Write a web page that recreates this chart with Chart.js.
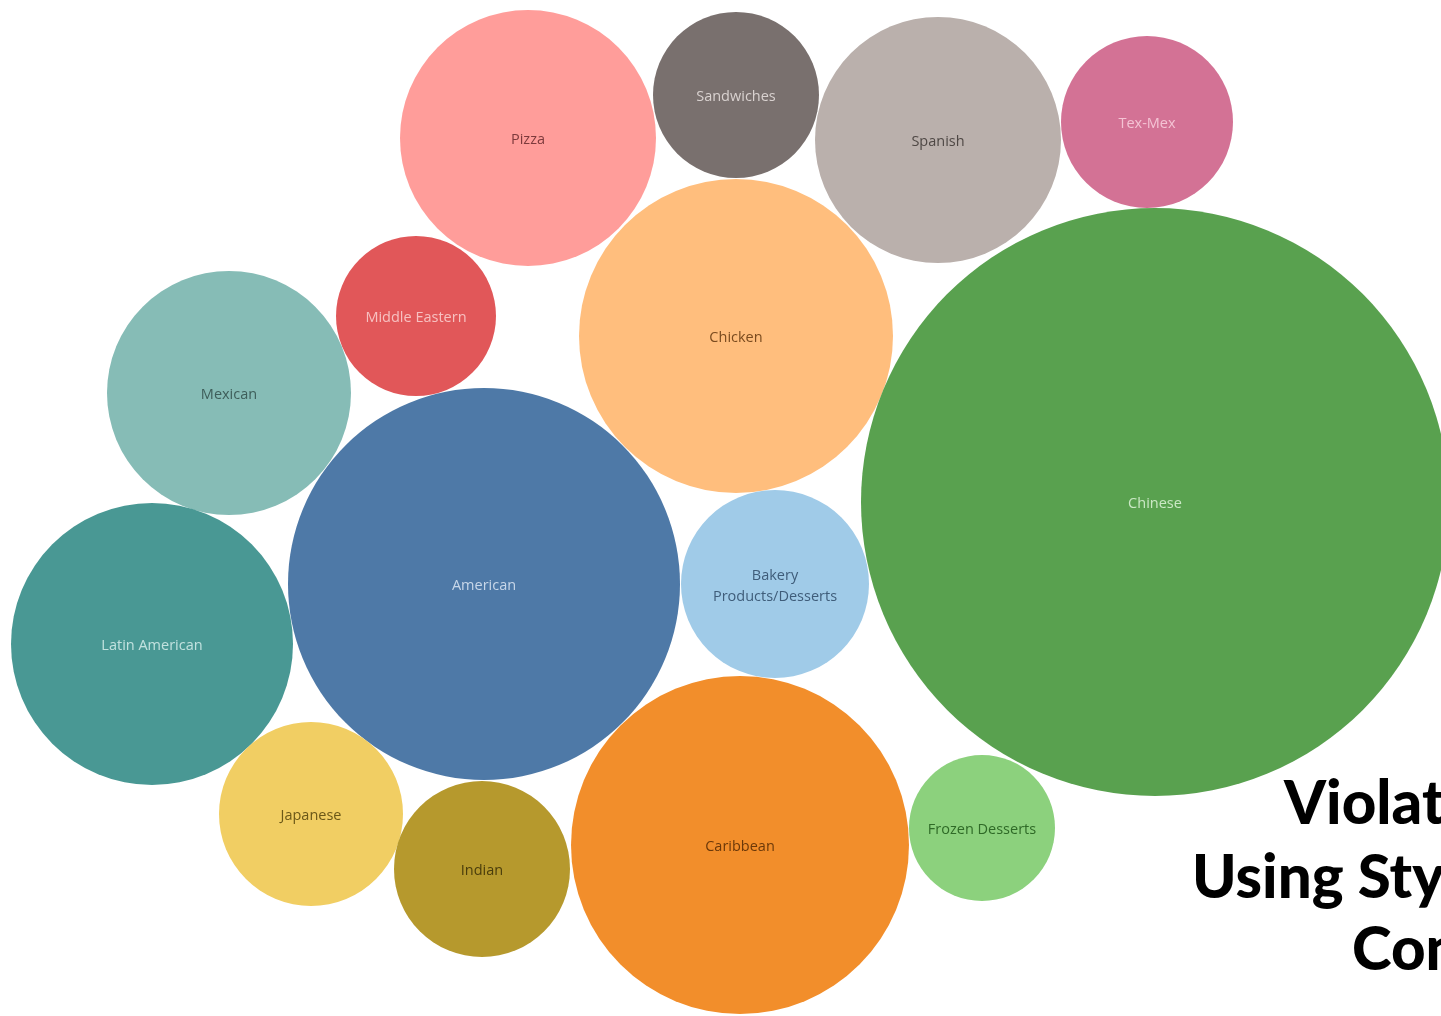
<!DOCTYPE html>
<html>
<head>
<meta charset="utf-8">
<script src="https://cdn.jsdelivr.net/npm/chart.js@4"></script>
<style>
  html, body { margin: 0; padding: 0; background: #ffffff; overflow: hidden; }
  #wrap { position: relative; width: 1441px; height: 1016px; overflow: hidden; }
  #bubbles { position: absolute; left: 0; top: 0; }
  .headline {
    position: absolute; white-space: nowrap; color: #000;
    font-family: Lato, "Open Sans", sans-serif; font-weight: 900;
    font-size: 60px; line-height: 60px;
  }
</style>
</head>
<body>
<div id="wrap">
  <canvas id="bubbles" width="1441" height="1016"></canvas>
  <div class="headline" style="left:1284px; top:771px;">Violation:</div>
  <div class="headline" style="left:1192px; top:845px;">Using Style over</div>
  <div class="headline" style="left:1352px; top:917px;">Content</div>
</div>
<script>
// Cuisine categories shown as packed bubbles
const cuisines = [
  "Pizza", "Sandwiches", "Spanish", "Tex-Mex", "Middle Eastern",
  "Chicken", "Chinese", "Mexican", "American", "Bakery Products/Desserts",
  "Latin American", "Japanese", "Indian", "Caribbean", "Frozen Desserts"
];
// Bubble radius for each cuisine
const radii = [128, 83, 123, 86, 80, 157, 294, 122, 196, 94, 141, 92, 88, 169, 73];
// Packed layout centres (layout units on a 1441 x 1016 field)
const packX = [528, 736, 938, 1147, 416, 736, 1155, 229, 484, 775, 152, 311, 482, 740, 982];
const packY = [138, 95, 140, 122, 316, 336, 502, 393, 584, 584, 644, 814, 869, 845, 828];
// Fill colours (Tableau 20 palette)
const fills = [
  "#FF9D9A", "#79706E", "#BAB0AC", "#D37295", "#E15759",
  "#FFBE7D", "#59A14F", "#86BCB6", "#4E79A7", "#A0CBE8",
  "#499894", "#F1CE63", "#B6992D", "#F28E2B", "#8CD17D"
];
// Label ink per bubble
const inks = [
  "#7d3a3c", "#d9d2d0", "#4f4845", "#f4c3d4", "#f7c0c0",
  "#7a4b1f", "#cbe8c5", "#3e5e5a", "#c8d7e9", "#3f5d7a",
  "#c2e2df", "#6b5818", "#4a3d0c", "#6b3809", "#2f6a27"
];

const points = cuisines.map((c, i) => ({ x: packX[i], y: packY[i], r: radii[i] }));

const bubbleLabels = {
  id: 'bubbleLabels',
  afterDatasetsDraw(chart) {
    const ctx = chart.ctx;
    const meta = chart.getDatasetMeta(0);
    ctx.save();
    ctx.font = '14.5px "Open Sans", sans-serif';
    ctx.textAlign = 'center';
    ctx.textBaseline = 'middle';
    meta.data.forEach((el, i) => {
      ctx.fillStyle = inks[i];
      const name = cuisines[i];
      if (name === "Bakery Products/Desserts") {
        ctx.fillText("Bakery", el.x, el.y - 8);
        ctx.fillText("Products/Desserts", el.x, el.y + 13);
      } else {
        ctx.fillText(name, el.x, el.y + 2);
      }
    });
    ctx.restore();
  }
};

new Chart(document.getElementById('bubbles'), {
  type: 'bubble',
  data: {
    datasets: [{
      label: 'Cuisine',
      data: points,
      backgroundColor: fills,
      borderWidth: 0,
      hoverRadius: 0
    }]
  },
  options: {
    responsive: false,
    animation: false,
    devicePixelRatio: 1,
    layout: { padding: 0, autoPadding: false },
    events: [],
    plugins: { legend: { display: false }, tooltip: { enabled: false } },
    scales: {
      x: { type: 'linear', min: 0, max: 1441, display: false },
      y: { type: 'linear', min: 0, max: 1016, reverse: true, display: false }
    }
  },
  plugins: [bubbleLabels]
});
</script>
</body>
</html>
